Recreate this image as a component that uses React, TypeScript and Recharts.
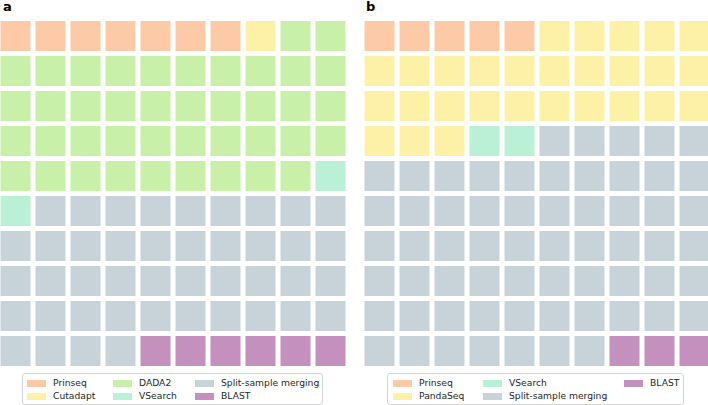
import { ScatterChart, Scatter, XAxis, YAxis, Legend } from 'recharts'

// waffle counts (out of 100 squares)
const methodsA = ['Prinseq', 'Cutadapt', 'DADA2', 'VSearch', 'Split-sample merging', 'BLAST']
const countsA = [7, 1, 41, 2, 43, 6]

const methodsB = ['Prinseq', 'PandaSeq', 'VSearch', 'Split-sample merging', 'BLAST']
const countsB = [5, 28, 2, 62, 3]

const colorOf: Record<string, string> = {
  Prinseq: '#fdcaa8',
  Cutadapt: '#fdf1a8',
  PandaSeq: '#fdf1a8',
  DADA2: '#c9f0a8',
  VSearch: '#b9f0d6',
  'Split-sample merging': '#c8d3d9',
  BLAST: '#c490be',
}

const COLS = 10

function buildCells(names: string[], counts: number[]) {
  let i = 0
  return names.map((name, k) => {
    const pts = []
    for (let n = 0; n < counts[k]; n++) {
      pts.push({ col: i % COLS, row: Math.floor(i / COLS) })
      i++
    }
    return { name, pts }
  })
}

const Square = (props: any) => {
  const { cx, cy, fill } = props
  return <rect x={cx - 15} y={cy - 15} width={30} height={30} fill={fill} />
}

function LegendBox({ names, slots, width }: { names: string[]; slots: number[][]; width: number }) {
  return (
    <div
      style={{
        position: 'relative',
        width,
        height: 30,
        border: '1px solid #d4d4d4',
        borderRadius: 3,
        background: 'rgba(255,255,255,0.8)',
        fontFamily: 'DejaVu Sans, sans-serif',
        fontSize: 9.2,
        color: '#262626',
      }}
    >
      {names.map((name, k) => {
        const [sx, lx] = slots[k]
        const top = k % 2 === 0 ? 9 : 22
        return (
          <div key={name}>
            <div
              style={{
                position: 'absolute',
                left: sx,
                top: top - 3.5,
                width: 19,
                height: 7,
                background: colorOf[name],
              }}
            />
            <div style={{ position: 'absolute', left: lx, top: top - 6, lineHeight: '12px', whiteSpace: 'nowrap' }}>
              {name}
            </div>
          </div>
        )
      })}
    </div>
  )
}

function Waffle({
  names,
  counts,
  left,
  legendLeft,
  legendWidth,
  slots,
}: {
  names: string[]
  counts: number[]
  left: number
  legendLeft: number
  legendWidth: number
  slots: number[][]
}) {
  const groups = buildCells(names, counts)
  return (
    <div style={{ position: 'absolute', left, top: 0 }}>
      <ScatterChart width={350} height={405} margin={{ top: 18.5, right: 0, bottom: 36.5, left: 0 }}>
        <XAxis type="number" dataKey="col" domain={[-0.5, 9.5]} hide />
        <YAxis type="number" dataKey="row" domain={[-0.5, 9.5]} reversed hide />
        {groups.map((g) => (
          <Scatter
            key={g.name}
            name={g.name}
            data={g.pts}
            fill={colorOf[g.name]}
            shape={Square}
            isAnimationActive={false}
          />
        ))}
        <Legend
          verticalAlign="middle"
          align="center"
          layout="horizontal"
          wrapperStyle={{ top: 373, left: legendLeft, width: legendWidth + 2, height: 32 }}
          content={() => <LegendBox names={names} slots={slots} width={legendWidth} />}
        />
      </ScatterChart>
    </div>
  )
}

const titleStyle = {
  position: 'absolute' as const,
  top: -1,
  fontFamily: 'DejaVu Sans, sans-serif',
  fontWeight: 'bold' as const,
  fontSize: 13,
  color: '#000',
}

export default function App() {
  return (
    <div style={{ position: 'absolute', left: 0, top: 0, width: 708, height: 405, overflow: 'hidden', background: '#fff' }}>
      <div style={{ ...titleStyle, left: 3 }}>a</div>
      <div style={{ ...titleStyle, left: 366 }}>b</div>
      <Waffle
        names={methodsA}
        counts={countsA}
        left={-2.5}
        legendLeft={24.5}
        legendWidth={299}
        slots={[
          [4, 30],
          [4, 30],
          [90, 116],
          [90, 116],
          [172, 198],
          [172, 198],
        ]}
      />
      <Waffle
        names={methodsB}
        counts={countsB}
        left={361.5}
        legendLeft={25.5}
        legendWidth={295}
        slots={[
          [5, 31],
          [5, 31],
          [95, 121],
          [95, 121],
          [236, 262],
        ]}
      />
    </div>
  )
}
